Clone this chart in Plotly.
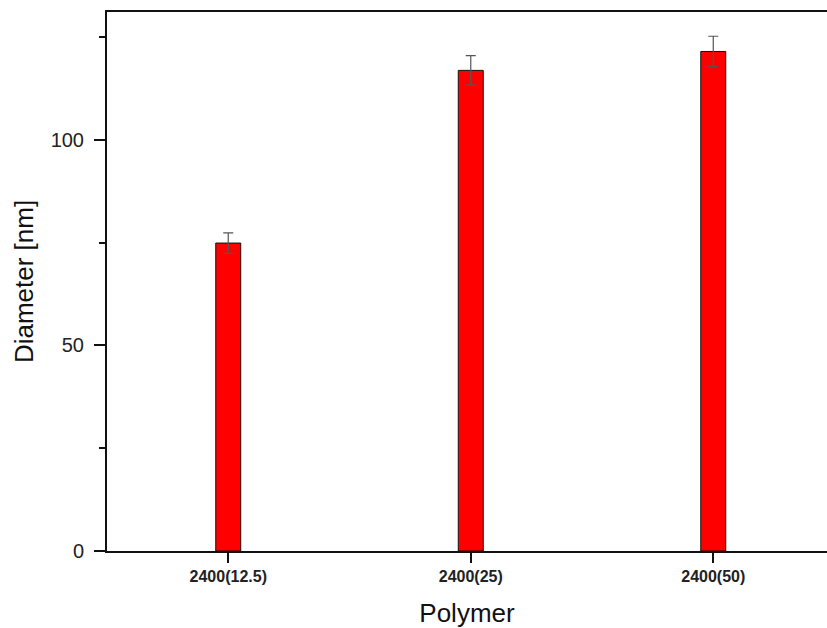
import plotly.graph_objects as go

categories = ["2400(12.5)", "2400(25)", "2400(50)"]
diameter = [74.9, 116.9, 121.5]
diameter_err = [2.5, 3.6, 3.7]

fig = go.Figure()
fig.add_trace(go.Bar(
    x=categories,
    y=diameter,
    width=0.103,
    marker=dict(color="#ff0000", line=dict(color="#111111", width=1)),
    error_y=dict(type="data", array=diameter_err, visible=True,
                 color="#555555", thickness=1.2, width=5),
))

font_family = "Arial, Liberation Sans, sans-serif"
fig.update_layout(
    width=827, height=628,
    margin=dict(l=107, r=0, t=12, b=77, autoexpand=False),
    plot_bgcolor="white", paper_bgcolor="white",
    showlegend=False,
    font=dict(family=font_family, color="#111111"),
    xaxis=dict(
        type="category",
        range=[-0.5, 2.469],
        tickmode="array",
        tickvals=categories,
        ticktext=["<b>%s</b>" % c for c in categories],
        tickfont=dict(size=16, color="#222222"),
        ticks="outside", ticklen=10, tickwidth=2, tickcolor="#111111",
        showline=True, linewidth=2, linecolor="#111111", mirror=True,
        showgrid=False, zeroline=False,
        title=dict(text="Polymer", font=dict(size=26, color="#111111"), standoff=20),
        automargin=False,
    ),
    yaxis=dict(
        range=[0, 131.1],
        tickvals=[0, 50, 100],
        tickfont=dict(size=20, color="#222222"),
        ticklabelstandoff=6,
        ticks="outside", ticklen=11, tickwidth=2, tickcolor="#111111",
        minor=dict(tickvals=[25, 75, 125], ticks="outside", ticklen=6, tickwidth=2, tickcolor="#111111"),
        showline=True, linewidth=2, linecolor="#111111", mirror=False,
        showgrid=False, zeroline=False,
        title=dict(text="Diameter [nm]", font=dict(size=26, color="#111111"), standoff=10),
        automargin=False,
    ),
)

fig.write_html("out.html")
